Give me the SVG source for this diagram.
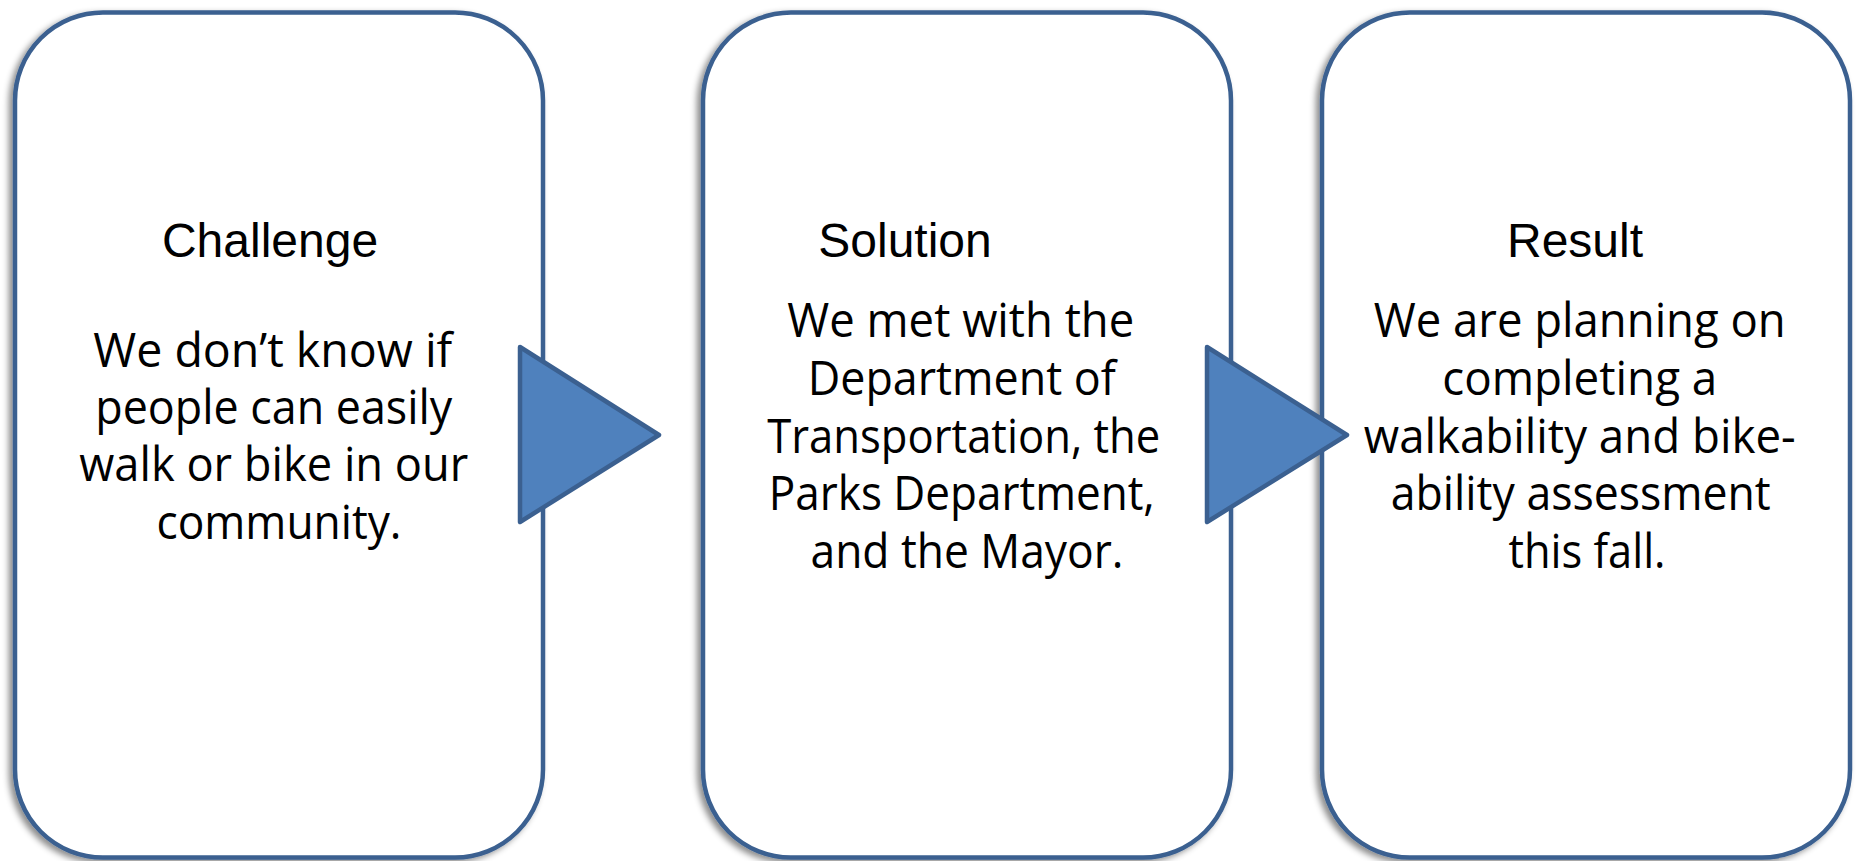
<svg xmlns="http://www.w3.org/2000/svg" width="1858" height="861" viewBox="0 0 1858 861">
  <style>
    .card { fill: #ffffff; stroke: #3B6090; stroke-width: 4.5; filter: url(#shadow); }
    .arrow { fill: #4F81BD; stroke: #3B6090; stroke-width: 4.5; stroke-linejoin: round; }
    .head { font-family: "Liberation Sans", Arial, sans-serif; font-size: 48px; fill: #000000; text-anchor: middle; }
    .body { font-family: "Open Sans", "Noto Sans", sans-serif; font-size: 48px; fill: #000000; text-anchor: middle; }
  </style>
  <defs>
    <filter id="shadow" x="-10%" y="-10%" width="120%" height="120%">
      <feDropShadow dx="-4" dy="3" stdDeviation="3" flood-color="#000000" flood-opacity="0.45"/>
    </filter>
  </defs>
  <rect width="1858" height="861" fill="#ffffff"/>

  <g id="challenge">
    <rect class="card" x="15" y="12.5" width="528" height="845" rx="88" ry="88"/>
    <text class="head" x="270" y="257">Challenge</text>
    <text class="body">
      <tspan x="279" y="367" textLength="359" lengthAdjust="spacingAndGlyphs">We don’t know if</tspan>
      <tspan x="280" y="424" textLength="357" lengthAdjust="spacingAndGlyphs">people can easily</tspan>
      <tspan x="280" y="481" textLength="389" lengthAdjust="spacingAndGlyphs">walk or bike in our</tspan>
      <tspan x="279" y="538.5" textLength="245" lengthAdjust="spacingAndGlyphs">community.</tspan>
    </text>
  </g>

  <g id="solution">
    <rect class="card" x="703" y="12.5" width="528" height="845" rx="88" ry="88"/>
    <text class="head" x="905" y="257">Solution</text>
    <text class="body">
      <tspan x="967" y="337" textLength="347" lengthAdjust="spacingAndGlyphs">We met with the</tspan>
      <tspan x="968" y="395" textLength="308" lengthAdjust="spacingAndGlyphs">Department of</tspan>
      <tspan x="970" y="452.5" textLength="393" lengthAdjust="spacingAndGlyphs">Transportation, the</tspan>
      <tspan x="968" y="510" textLength="386" lengthAdjust="spacingAndGlyphs">Parks Department,</tspan>
      <tspan x="967" y="567.5" textLength="313" lengthAdjust="spacingAndGlyphs">and the Mayor.</tspan>
    </text>
  </g>

  <g id="result">
    <rect class="card" x="1322" y="12.5" width="528" height="845" rx="88" ry="88"/>
    <text class="head" x="1575" y="257">Result</text>
    <text class="body">
      <tspan x="1586" y="337" textLength="412" lengthAdjust="spacingAndGlyphs">We are planning on</tspan>
      <tspan x="1586" y="395" textLength="275" lengthAdjust="spacingAndGlyphs">completing a</tspan>
      <tspan x="1586" y="452.5" textLength="432" lengthAdjust="spacingAndGlyphs">walkability and bike-</tspan>
      <tspan x="1587" y="510" textLength="380" lengthAdjust="spacingAndGlyphs">ability assessment</tspan>
      <tspan x="1587" y="567.5" textLength="157" lengthAdjust="spacingAndGlyphs">this fall.</tspan>
    </text>
  </g>

  <g id="connectors">
    <polygon class="arrow" points="520,347 659,435 520,522"/>
    <polygon class="arrow" points="1207,347 1347,435 1207,522"/>
  </g>
</svg>
